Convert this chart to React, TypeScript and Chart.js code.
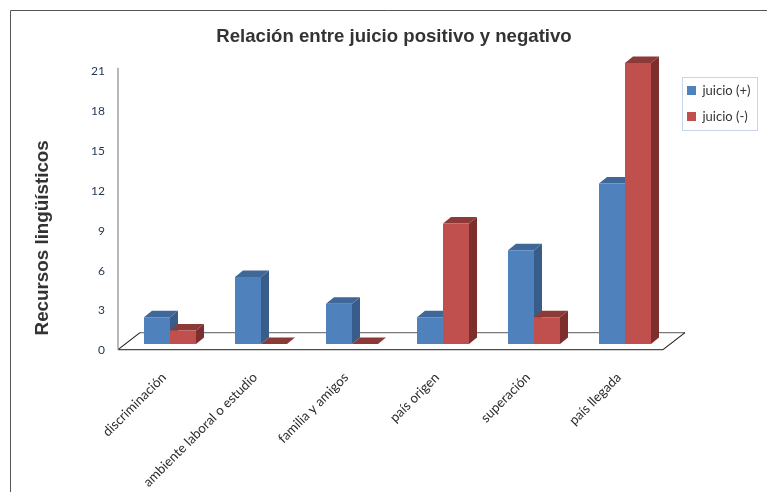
import React, { useEffect, useRef } from "react";
import { Chart, registerables } from "chart.js";

Chart.register(...registerables);

const chartTitle = "Relación entre juicio positivo y negativo";
const axisTitle = "Recursos lingüísticos";
const categories = [
  "discriminación",
  "ambiente laboral o estudio",
  "familia y amigos",
  "país origen",
  "superación",
  "país llegada",
];
const juicioPositivo = [2, 5, 3, 2, 7, 12];
const juicioNegativo = [1, 0, 0, 9, 2, 21];

const DEPTH_X = 8;
const DEPTH_Y = 6.5;
const BLUE = { front: "#4f81bd", side: "#385d8a", top: "#3f6797" };
const RED = { front: "#c0504d", side: "#7d2f2d", top: "#8c3a38" };
const shades = [BLUE, RED];

function poly(ctx: CanvasRenderingContext2D, pts: number[][], fill: string) {
  ctx.beginPath();
  pts.forEach(([x, y], i) => (i ? ctx.lineTo(x, y) : ctx.moveTo(x, y)));
  ctx.closePath();
  ctx.fillStyle = fill;
  ctx.fill();
}

// Extruded side and top faces of each bar, the page frame, floor, wall axis and legend frame.
const extrusion = {
  id: "extrusion",
  afterLayout(chart: any) {
    // The legend sits beside the plot, lower than its default slot and clear of the floor.
    const legend = chart.legend;
    const w = legend.right - legend.left;
    const h = legend.bottom - legend.top;
    legend.left = 674;
    legend.right = 674 + w;
    legend.top = 71;
    legend.bottom = 71 + h;
  },
  beforeDatasetsDraw(chart: any) {
    const { ctx, chartArea, scales } = chart;
    const zero = scales.y2.getPixelForValue(0) - 1;
    const floorLeft = chartArea.left - 6.5;
    const floorRight = chartArea.right - 7.5;
    const rise = 17;
    const run = 22;
    ctx.save();
    ctx.lineWidth = 1.2;
    ctx.strokeStyle = "#4a4a4a";
    ctx.beginPath();
    ctx.moveTo(floorLeft, zero);
    ctx.lineTo(floorRight, zero);
    ctx.stroke();
    ctx.strokeStyle = "#7a7a7a";
    ctx.beginPath();
    ctx.moveTo(floorLeft + run, zero - rise);
    ctx.lineTo(floorRight + run, zero - rise);
    ctx.stroke();
    ctx.strokeStyle = "#222222";
    ctx.beginPath();
    ctx.moveTo(floorLeft, zero);
    ctx.lineTo(floorLeft + run, zero - rise);
    ctx.moveTo(floorRight, zero);
    ctx.lineTo(floorRight + run, zero - rise);
    ctx.stroke();
    ctx.strokeStyle = "#a0a0a0";
    ctx.lineWidth = 1.5;
    ctx.beginPath();
    ctx.moveTo(floorLeft, zero);
    ctx.lineTo(floorLeft, scales.y2.getPixelForValue(21) - 3);
    ctx.stroke();

    categories.forEach((_, i) => {
      [0, 1].forEach((d) => {
        const bar = chart.getDatasetMeta(d).data[i];
        const half = bar.width / 2;
        const l = bar.x - half;
        const r = bar.x + half;
        const t = bar.y;
        const b = bar.base;
        poly(ctx, [[r, t], [r + DEPTH_X, t - DEPTH_Y], [r + DEPTH_X, b - DEPTH_Y], [r, b]], shades[d].side);
        poly(ctx, [[l, t], [l + DEPTH_X, t - DEPTH_Y], [r + DEPTH_X, t - DEPTH_Y], [r, t]], shades[d].top);
      });
    });
    ctx.restore();
  },
  afterDraw(chart: any) {
    const { ctx, chartArea, width, height, legend } = chart;
    ctx.save();
    ctx.strokeStyle = "#555555";
    ctx.lineWidth = 1;
    ctx.beginPath();
    ctx.moveTo(10.5, height);
    ctx.lineTo(10.5, 10.5);
    ctx.lineTo(width, 10.5);
    ctx.stroke();

    ctx.translate(43, (chartArea.top + chartArea.bottom) / 2 + 31);
    ctx.rotate(-Math.PI / 2);
    ctx.font = "bold 18.8px 'Liberation Sans'";
    ctx.fillStyle = "#333333";
    ctx.textAlign = "center";
    ctx.textBaseline = "middle";
    ctx.fillText(axisTitle, 0, 0);
    ctx.restore();

    ctx.save();
    ctx.strokeStyle = "#c6d6ec";
    ctx.lineWidth = 1;
    ctx.strokeRect(legend.left + 8.5, legend.top + 6.5, 75, 53);
    ctx.restore();
  },
};

export default function App() {
  const ref = useRef<HTMLCanvasElement>(null);
  useEffect(() => {
    const chart = new Chart(ref.current as HTMLCanvasElement, {
      type: "bar",
      data: {
        labels: categories,
        datasets: [
          { label: "juicio (+)", data: juicioPositivo, backgroundColor: BLUE.front, yAxisID: "y" },
          { label: "juicio (-)", data: juicioNegativo, backgroundColor: RED.front, yAxisID: "y" },
        ],
      },
      options: {
        responsive: false,
        animation: false,
        maintainAspectRatio: false,
        layout: { padding: { left: 31, right: 10, top: 0, bottom: 0 } },
        datasets: { bar: { categoryPercentage: 52 / 91, barPercentage: 1 } },
        plugins: {
          title: {
            display: true,
            text: chartTitle,
            color: "#333333",
            font: { family: "'Liberation Sans'", size: 18.6, weight: "bold", lineHeight: 1.2 },
            padding: { top: 26, bottom: 14.7 },
          },
          legend: {
            position: "right",
            align: "start",
            labels: {
              boxWidth: 9,
              boxHeight: 9,
              padding: 13,
              color: "#333333",
              font: { family: "Lato", size: 13 },
            },
          },
          tooltip: { enabled: false },
        },
        scales: {
          x: {
            grid: { display: false, drawTicks: false },
            border: { display: false },
            ticks: {
              minRotation: 45,
              maxRotation: 45,
              padding: 19,
              labelOffset: -6,
              color: "#2b2b2b",
              font: { family: "Lato", size: 13.3 },
            },
            afterFit(scale: any) {
              scale.height = 141.4;
            },
          },
          y: { display: false, min: -0.493, max: 21 },
          y2: {
            position: "left",
            min: 0,
            max: 21.58,
            grid: { display: false, drawTicks: false },
            border: { display: false },
            ticks: {
              stepSize: 3,
              includeBounds: false,
              padding: 19.5,
              color: "#1f3550",
              font: { family: "Lato", size: 12 },
            },
            afterFit(scale: any) {
              scale.width = 93.5;
            },
          },
        },
      },
      plugins: [extrusion],
    } as any);
    return () => chart.destroy();
  }, []);
  return (
    <div style={{ position: "absolute", left: 0, top: 0 }}>
      <canvas ref={ref} width={767} height={492} style={{ display: "block" }} />
    </div>
  );
}
